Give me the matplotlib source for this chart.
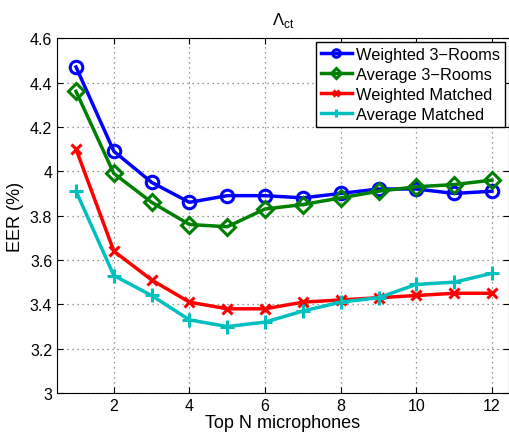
import numpy as np
import matplotlib
matplotlib.use('Agg')
import matplotlib.pyplot as plt

plt.rcParams['font.family'] = ['Liberation Sans', 'DejaVu Sans']
plt.rcParams['mathtext.fontset'] = 'custom'
plt.rcParams['mathtext.rm'] = 'Liberation Sans'

top_n = [1, 2, 3, 4, 5, 6, 7, 8, 9, 10, 11, 12]
weighted_3rooms = [4.47, 4.09, 3.95, 3.86, 3.89, 3.89, 3.88, 3.90, 3.92, 3.92, 3.90, 3.91]
average_3rooms = [4.36, 3.99, 3.86, 3.76, 3.75, 3.83, 3.85, 3.88, 3.91, 3.93, 3.94, 3.96]
weighted_matched = [4.10, 3.64, 3.51, 3.41, 3.38, 3.38, 3.41, 3.42, 3.43, 3.44, 3.45, 3.45]
average_matched = [3.91, 3.53, 3.44, 3.33, 3.30, 3.32, 3.37, 3.41, 3.43, 3.49, 3.50, 3.54]

fig = plt.figure(figsize=(5.1, 4.35), dpi=100)
ax = fig.add_axes([0.112, 0.094, 0.886, 0.816])

ax.plot(top_n, weighted_3rooms, color='#0000ff', lw=2.5, marker='o', ms=9,
        mfc='none', mew=2.2, label='Weighted 3\u2212Rooms')
ax.plot(top_n, average_3rooms, color='#008000', lw=2.5, marker='D', ms=8,
        mfc='none', mew=2.2, label='Average 3\u2212Rooms')
ax.plot(top_n, weighted_matched, color='#ff0000', lw=2.5, marker='x', ms=7,
        mew=2.2, label='Weighted Matched')
ax.plot(top_n, average_matched, color='#00bfbf', lw=2.5, marker='+', ms=10,
        mew=2.2, label='Average Matched')

ax.set_xlim(0.5, 12.45)
ax.set_ylim(3, 4.6)
ax.set_xticks([2, 4, 6, 8, 10, 12])
ax.set_yticks(np.arange(3, 4.61, 0.2))
ax.set_yticklabels(['3', '3.2', '3.4', '3.6', '3.8', '4', '4.2', '4.4', '4.6'])
ax.tick_params(direction='in', labelsize=11.5, top=True, right=True, length=4)
ax.grid(True, linestyle=(0, (1, 3)), color='#777777', lw=0.9)

ax.set_xlabel('Top N microphones', fontsize=13, labelpad=1)
ax.set_ylabel('EER (%)', fontsize=13, labelpad=4)
ax.set_title(r'$\Lambda_{\rm ct}$', fontsize=12, pad=10)

leg = ax.legend(loc='upper right', fontsize=11.8, fancybox=False, framealpha=1,
                edgecolor='black', borderpad=0.3, labelspacing=0.3,
                handlelength=1.9, handletextpad=0.25, borderaxespad=0.25,
                markerscale=0.6)
leg.get_frame().set_linewidth(1.0)

plt.savefig('out.png', dpi=100)
